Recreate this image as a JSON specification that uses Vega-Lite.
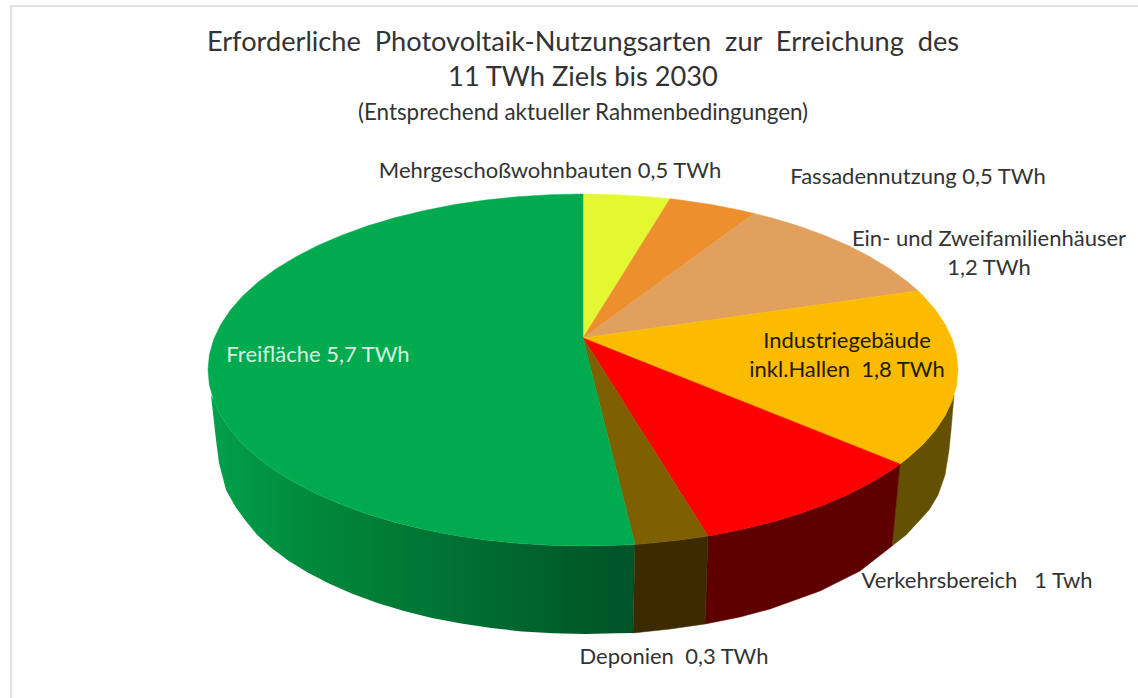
{"$schema":"https://vega.github.io/schema/vega-lite/v6.json","width":1138,"height":698,"padding":0,"autosize":{"type":"none"},"background":"white","config":{"view":{"stroke":null}},
"title":{"text":["Erforderliche\u00a0 Photovoltaik-Nutzungsarten\u00a0 zur\u00a0 Erreichung\u00a0 des","11 TWh Ziels bis 2030"],"subtitle":"(Entsprechend aktueller Rahmenbedingungen)","anchor":"middle","frame":"group","dx":14,"dy":129,"font":"Lato","fontSize":27.2,"fontWeight":"normal","color":"#333333","lineHeight":35,"subtitleFont":"Lato","subtitleFontSize":22.4,"subtitleColor":"#333333","subtitlePadding":9},
"datasets":{"slices":[{"slice":"Mehrgeschoßwohnbauten","twh":0.5,"label":"Mehrgeschoßwohnbauten 0,5 TWh","lx":550,"ly":171},{"slice":"Fassadennutzung","twh":0.5,"label":"Fassadennutzung 0,5 TWh","lx":918,"ly":177},{"slice":"Ein- und Zweifamilienhäuser","twh":1.2,"label":"Ein- und Zweifamilienhäuser\n1,2 TWh","lx":989,"ly":239},{"slice":"Industriegebäude inkl. Hallen","twh":1.8,"label":"Industriegebäude\ninkl.Hallen\u00a0 1,8 TWh","lx":847,"ly":341},{"slice":"Verkehrsbereich","twh":1,"label":"Verkehrsbereich\u00a0\u00a0 1 Twh","lx":977,"ly":581},{"slice":"Deponien","twh":0.3,"label":"Deponien\u00a0 0,3 TWh","lx":674,"ly":657},{"slice":"Freifläche","twh":5.7,"label":"Freifläche 5,7 TWh","lx":318,"ly":355}],
"frame":[{"o":1,"x":1138,"y":6},{"o":2,"x":11,"y":6},{"o":3,"x":11,"y":698}],
"top":[
{"s":"Mehrgeschoßwohnbauten","o":0,"x":583,"y":338},{"s":"Mehrgeschoßwohnbauten","o":1,"x":583,"y":194},{"s":"Mehrgeschoßwohnbauten","o":2,"x":615.7,"y":194.7},{"s":"Mehrgeschoßwohnbauten","o":3,"x":648.1,"y":196.7},{"s":"Mehrgeschoßwohnbauten","o":4,"x":670,"y":198.8},{"s":"Mehrgeschoßwohnbauten","o":5,"x":583,"y":338},
{"s":"Fassadennutzung","o":0,"x":583,"y":338},{"s":"Fassadennutzung","o":1,"x":670,"y":198.8},{"s":"Fassadennutzung","o":2,"x":680.1,"y":200},{"s":"Fassadennutzung","o":3,"x":711.3,"y":204.6},{"s":"Fassadennutzung","o":4,"x":741.5,"y":210.5},{"s":"Fassadennutzung","o":5,"x":754,"y":213.4},{"s":"Fassadennutzung","o":6,"x":583,"y":338},
{"s":"Ein- und Zweifamilienhäuser","o":0,"x":583,"y":338},{"s":"Ein- und Zweifamilienhäuser","o":1,"x":754,"y":213.4},{"s":"Ein- und Zweifamilienhäuser","o":2,"x":770.5,"y":217.6},{"s":"Ein- und Zweifamilienhäuser","o":3,"x":798.1,"y":225.8},{"s":"Ein- und Zweifamilienhäuser","o":4,"x":824.1,"y":235.2},{"s":"Ein- und Zweifamilienhäuser","o":5,"x":848.2,"y":245.5},{"s":"Ein- und Zweifamilienhäuser","o":6,"x":870.3,"y":256.9},{"s":"Ein- und Zweifamilienhäuser","o":7,"x":890.2,"y":269},{"s":"Ein- und Zweifamilienhäuser","o":8,"x":907.8,"y":282},{"s":"Ein- und Zweifamilienhäuser","o":9,"x":918,"y":290.8},{"s":"Ein- und Zweifamilienhäuser","o":10,"x":583,"y":338},
{"s":"Industriegebäude inkl. Hallen","o":0,"x":583,"y":338},{"s":"Industriegebäude inkl. Hallen","o":1,"x":918,"y":290.8},{"s":"Industriegebäude inkl. Hallen","o":2,"x":922.9,"y":295.6},{"s":"Industriegebäude inkl. Hallen","o":3,"x":935.4,"y":309.8},{"s":"Industriegebäude inkl. Hallen","o":4,"x":945.2,"y":324.5},{"s":"Industriegebäude inkl. Hallen","o":5,"x":952.3,"y":339.4},{"s":"Industriegebäude inkl. Hallen","o":6,"x":956.6,"y":354.7},{"s":"Industriegebäude inkl. Hallen","o":7,"x":958,"y":370},{"s":"Industriegebäude inkl. Hallen","o":8,"x":956.6,"y":385.3},{"s":"Industriegebäude inkl. Hallen","o":9,"x":952.3,"y":400.6},{"s":"Industriegebäude inkl. Hallen","o":10,"x":945.2,"y":415.5},{"s":"Industriegebäude inkl. Hallen","o":11,"x":935.4,"y":430.2},{"s":"Industriegebäude inkl. Hallen","o":12,"x":922.9,"y":444.4},{"s":"Industriegebäude inkl. Hallen","o":13,"x":907.8,"y":458},{"s":"Industriegebäude inkl. Hallen","o":14,"x":900,"y":464},{"s":"Industriegebäude inkl. Hallen","o":15,"x":583,"y":338},
{"s":"Verkehrsbereich","o":0,"x":583,"y":338},{"s":"Verkehrsbereich","o":1,"x":900,"y":464},{"s":"Verkehrsbereich","o":2,"x":890.2,"y":471},{"s":"Verkehrsbereich","o":3,"x":870.3,"y":483.1},{"s":"Verkehrsbereich","o":4,"x":848.2,"y":494.5},{"s":"Verkehrsbereich","o":5,"x":824.1,"y":504.8},{"s":"Verkehrsbereich","o":6,"x":798.1,"y":514.2},{"s":"Verkehrsbereich","o":7,"x":770.5,"y":522.4},{"s":"Verkehrsbereich","o":8,"x":741.5,"y":529.5},{"s":"Verkehrsbereich","o":9,"x":711.3,"y":535.4},{"s":"Verkehrsbereich","o":10,"x":708,"y":536},{"s":"Verkehrsbereich","o":11,"x":583,"y":338},
{"s":"Deponien","o":0,"x":583,"y":338},{"s":"Deponien","o":1,"x":708,"y":536},{"s":"Deponien","o":2,"x":680.1,"y":540},{"s":"Deponien","o":3,"x":648.1,"y":543.3},{"s":"Deponien","o":4,"x":635,"y":544.5},{"s":"Deponien","o":5,"x":583,"y":338},
{"s":"Freifläche","o":0,"x":583,"y":338},{"s":"Freifläche","o":1,"x":635,"y":544.5},{"s":"Freifläche","o":2,"x":615.7,"y":545.3},{"s":"Freifläche","o":3,"x":583,"y":546},{"s":"Freifläche","o":4,"x":550.3,"y":545.3},{"s":"Freifläche","o":5,"x":517.9,"y":543.3},{"s":"Freifläche","o":6,"x":485.9,"y":540},{"s":"Freifläche","o":7,"x":454.7,"y":535.4},{"s":"Freifläche","o":8,"x":424.5,"y":529.5},{"s":"Freifläche","o":9,"x":395.5,"y":522.4},{"s":"Freifläche","o":10,"x":367.9,"y":514.2},{"s":"Freifläche","o":11,"x":341.9,"y":504.8},{"s":"Freifläche","o":12,"x":317.8,"y":494.5},{"s":"Freifläche","o":13,"x":295.7,"y":483.1},{"s":"Freifläche","o":14,"x":275.8,"y":471},{"s":"Freifläche","o":15,"x":258.2,"y":458},{"s":"Freifläche","o":16,"x":243.1,"y":444.4},{"s":"Freifläche","o":17,"x":230.6,"y":430.2},{"s":"Freifläche","o":18,"x":220.8,"y":415.5},{"s":"Freifläche","o":19,"x":213.7,"y":400.6},{"s":"Freifläche","o":20,"x":209.4,"y":385.3},{"s":"Freifläche","o":21,"x":208,"y":370},{"s":"Freifläche","o":22,"x":209.4,"y":354.7},{"s":"Freifläche","o":23,"x":213.7,"y":339.4},{"s":"Freifläche","o":24,"x":220.8,"y":324.5},{"s":"Freifläche","o":25,"x":230.6,"y":309.8},{"s":"Freifläche","o":26,"x":243.1,"y":295.6},{"s":"Freifläche","o":27,"x":258.2,"y":282},{"s":"Freifläche","o":28,"x":275.8,"y":269},{"s":"Freifläche","o":29,"x":295.7,"y":256.9},{"s":"Freifläche","o":30,"x":317.8,"y":245.5},{"s":"Freifläche","o":31,"x":341.9,"y":235.2},{"s":"Freifläche","o":32,"x":367.9,"y":225.8},{"s":"Freifläche","o":33,"x":395.5,"y":217.6},{"s":"Freifläche","o":34,"x":424.5,"y":210.5},{"s":"Freifläche","o":35,"x":454.7,"y":204.6},{"s":"Freifläche","o":36,"x":485.9,"y":200},{"s":"Freifläche","o":37,"x":517.9,"y":196.7},{"s":"Freifläche","o":38,"x":550.3,"y":194.7},{"s":"Freifläche","o":39,"x":583,"y":194},{"s":"Freifläche","o":40,"x":583,"y":338}],
"wall":[
{"s":"Industriegebäude inkl. Hallen","o":0,"x":900,"y":464},{"s":"Industriegebäude inkl. Hallen","o":1,"x":907.8,"y":458},{"s":"Industriegebäude inkl. Hallen","o":2,"x":922.9,"y":444.4},{"s":"Industriegebäude inkl. Hallen","o":3,"x":935.4,"y":430.2},{"s":"Industriegebäude inkl. Hallen","o":4,"x":945.2,"y":415.5},{"s":"Industriegebäude inkl. Hallen","o":5,"x":954,"y":395},{"s":"Industriegebäude inkl. Hallen","o":6,"x":951,"y":430},{"s":"Industriegebäude inkl. Hallen","o":7,"x":949,"y":450},{"s":"Industriegebäude inkl. Hallen","o":8,"x":945,"y":475},{"s":"Industriegebäude inkl. Hallen","o":9,"x":938,"y":495},{"s":"Industriegebäude inkl. Hallen","o":10,"x":929,"y":510},{"s":"Industriegebäude inkl. Hallen","o":11,"x":918,"y":522},{"s":"Industriegebäude inkl. Hallen","o":12,"x":906,"y":535},{"s":"Industriegebäude inkl. Hallen","o":13,"x":892,"y":546},{"s":"Industriegebäude inkl. Hallen","o":14,"x":900,"y":464},
{"s":"Verkehrsbereich","o":0,"x":900,"y":464},{"s":"Verkehrsbereich","o":1,"x":890.2,"y":471},{"s":"Verkehrsbereich","o":2,"x":870.3,"y":483.1},{"s":"Verkehrsbereich","o":3,"x":848.2,"y":494.5},{"s":"Verkehrsbereich","o":4,"x":824.1,"y":504.8},{"s":"Verkehrsbereich","o":5,"x":798.1,"y":514.2},{"s":"Verkehrsbereich","o":6,"x":770.5,"y":522.4},{"s":"Verkehrsbereich","o":7,"x":741.5,"y":529.5},{"s":"Verkehrsbereich","o":8,"x":711.3,"y":535.4},{"s":"Verkehrsbereich","o":9,"x":708,"y":536},{"s":"Verkehrsbereich","o":10,"x":705,"y":624},{"s":"Verkehrsbereich","o":11,"x":740,"y":617},{"s":"Verkehrsbereich","o":12,"x":770,"y":609},{"s":"Verkehrsbereich","o":13,"x":820,"y":591},{"s":"Verkehrsbereich","o":14,"x":860,"y":571},{"s":"Verkehrsbereich","o":15,"x":892,"y":546},{"s":"Verkehrsbereich","o":16,"x":900,"y":464},
{"s":"Deponien","o":0,"x":708,"y":536},{"s":"Deponien","o":1,"x":680.1,"y":540},{"s":"Deponien","o":2,"x":648.1,"y":543.3},{"s":"Deponien","o":3,"x":635,"y":544.5},{"s":"Deponien","o":4,"x":633,"y":633},{"s":"Deponien","o":5,"x":670,"y":629},{"s":"Deponien","o":6,"x":705,"y":624},{"s":"Deponien","o":7,"x":708,"y":536}],
"greenwall":[{"o":0,"x":635,"y":544.5},{"o":1,"x":615.7,"y":545.3},{"o":2,"x":583,"y":546},{"o":3,"x":550.3,"y":545.3},{"o":4,"x":517.9,"y":543.3},{"o":5,"x":485.9,"y":540},{"o":6,"x":454.7,"y":535.4},{"o":7,"x":424.5,"y":529.5},{"o":8,"x":395.5,"y":522.4},{"o":9,"x":367.9,"y":514.2},{"o":10,"x":341.9,"y":504.8},{"o":11,"x":317.8,"y":494.5},{"o":12,"x":295.7,"y":483.1},{"o":13,"x":275.8,"y":471},{"o":14,"x":258.2,"y":458},{"o":15,"x":243.1,"y":444.4},{"o":16,"x":230.6,"y":430.2},{"o":17,"x":220.8,"y":415.5},{"o":18,"x":213.7,"y":400.6},{"o":19,"x":211,"y":395},{"o":20,"x":216,"y":440},{"o":21,"x":219,"y":463},{"o":22,"x":226,"y":490},{"o":23,"x":235.3,"y":506.5},{"o":24,"x":245,"y":520},{"o":25,"x":257,"y":534.7},{"o":26,"x":271.5,"y":548},{"o":27,"x":288.5,"y":560.7},{"o":28,"x":307.7,"y":572.6},{"o":29,"x":329,"y":583.6},{"o":30,"x":352.3,"y":593.8},{"o":31,"x":377.4,"y":602.9},{"o":32,"x":404,"y":611},{"o":33,"x":432,"y":617.9},{"o":34,"x":461.2,"y":623.6},{"o":35,"x":491.3,"y":628.1},{"o":36,"x":522.1,"y":631.4},{"o":37,"x":553.4,"y":633.3},{"o":38,"x":585,"y":634},{"o":39,"x":616.5,"y":633.3},{"o":40,"x":633,"y":633},{"o":41,"x":635,"y":544.5}]},
"layer":[
{"data":{"name":"frame"},"mark":{"type":"line","stroke":"#e2e2e2","strokeWidth":2},"encoding":{"x":{"field":"x","type":"quantitative","scale":{"domain":[0,1138],"nice":false},"axis":null},"y":{"field":"y","type":"quantitative","scale":{"domain":[698,0],"nice":false},"axis":null},"order":{"field":"o"}}},
{"data":{"name":"greenwall"},"mark":{"type":"line","strokeWidth":0,"fill":{"gradient":"linear","x1":0,"x2":1,"y1":0,"y2":0,"stops":[{"offset":0,"color":"#00A04C"},{"offset":0.22,"color":"#008A3C"},{"offset":0.6,"color":"#006F32"},{"offset":0.95,"color":"#005528"},{"offset":1,"color":"#005528"}]}},"encoding":{"x":{"field":"x","type":"quantitative"},"y":{"field":"y","type":"quantitative"},"order":{"field":"o"}}},
{"data":{"name":"wall"},"mark":{"type":"line","strokeWidth":0.5},"encoding":{"x":{"field":"x","type":"quantitative"},"y":{"field":"y","type":"quantitative"},"order":{"field":"o"},"fill":{"field":"s","type":"nominal","legend":null,"scale":{"domain":["Industriegebäude inkl. Hallen","Verkehrsbereich","Deponien"],"range":["#635000","#5F0000","#3C2B00"]}},"stroke":{"field":"s","type":"nominal","legend":null,"scale":{"domain":["Industriegebäude inkl. Hallen","Verkehrsbereich","Deponien"],"range":["#635000","#5F0000","#3C2B00"]}}}},
{"data":{"name":"top"},"mark":{"type":"line","strokeWidth":0.5},"encoding":{"x":{"field":"x","type":"quantitative"},"y":{"field":"y","type":"quantitative"},"order":{"field":"o"},"fill":{"field":"s","type":"nominal","legend":null,"scale":{"domain":["Mehrgeschoßwohnbauten","Fassadennutzung","Ein- und Zweifamilienhäuser","Industriegebäude inkl. Hallen","Verkehrsbereich","Deponien","Freifläche"],"range":["#E4F832","#EE8F2D","#E2A05F","#FBBC00","#FF0000","#7F6000","#00AB50"]}},"stroke":{"field":"s","type":"nominal","legend":null,"scale":{"domain":["Mehrgeschoßwohnbauten","Fassadennutzung","Ein- und Zweifamilienhäuser","Industriegebäude inkl. Hallen","Verkehrsbereich","Deponien","Freifläche"],"range":["#E4F832","#EE8F2D","#E2A05F","#FBBC00","#FF0000","#7F6000","#00AB50"]}}}},
{"data":{"name":"slices"},"mark":{"type":"text","font":"Lato","fontSize":22,"lineBreak":"\n","lineHeight":29,"align":"center","baseline":"middle"},"encoding":{"x":{"field":"lx","type":"quantitative"},"y":{"field":"ly","type":"quantitative"},"text":{"field":"label"},"color":{"field":"slice","type":"nominal","legend":null,"scale":{"domain":["Mehrgeschoßwohnbauten","Fassadennutzung","Ein- und Zweifamilienhäuser","Industriegebäude inkl. Hallen","Verkehrsbereich","Deponien","Freifläche"],"range":["#333333","#333333","#333333","#1F1A00","#333333","#333333","#D8F2E0"]}}}}
],
"resolve":{"scale":{"fill":"independent","stroke":"independent","color":"independent"}}}
